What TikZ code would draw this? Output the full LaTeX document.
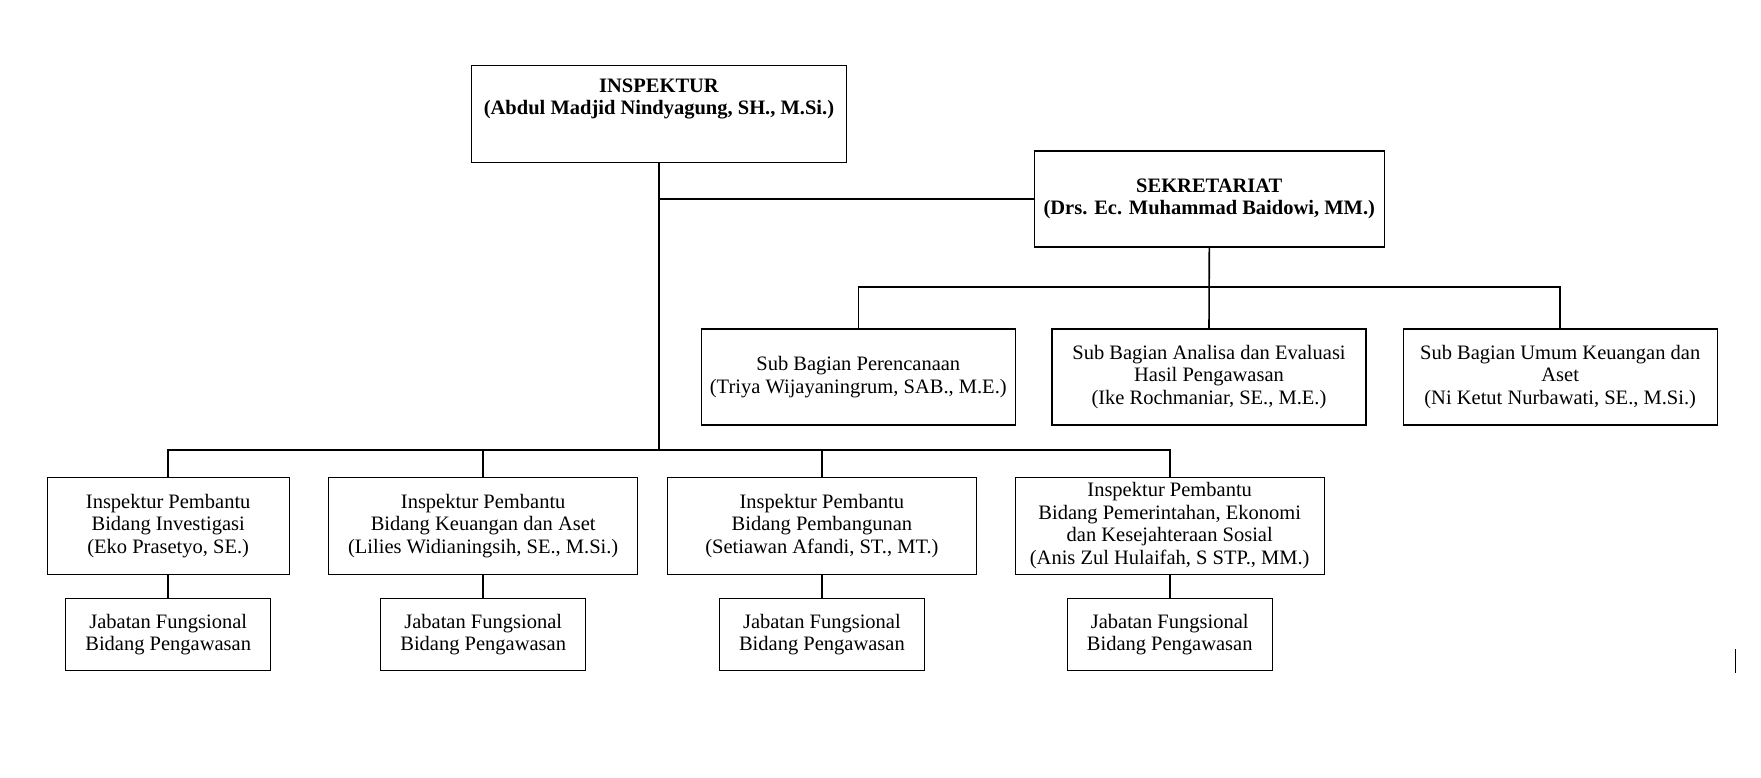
\documentclass[tikz,border=0pt]{standalone}
\usepackage{fontspec}
\setmainfont{Liberation Serif}

\begin{document}
\begin{tikzpicture}[x=1pt,y=-1pt,
	kotak/.style={draw,line width=1.3pt,align=center,inner sep=2pt,font=\fontsize{20.5}{22.6}\selectfont},
	judul/.style={kotak,font=\fontsize{20.5}{22.6}\selectfont\bfseries},
	garis/.style={line width=1.6pt}]
	\useasboundingbox (0,0) rectangle (1761,777);
	\node[judul,minimum width=375,minimum height=97] (insp) at (659,114) {INSPEKTUR\\(Abdul Madjid Nindyagung, SH., M.Si.)\\[12pt]\mbox{}};
	\node[judul,minimum width=350,minimum height=96] (sekr) at (1209.3,199) {SEKRETARIAT\\(Drs. Ec. Muhammad Baidowi, MM.)};
	\node[kotak,minimum width=314,minimum height=96] (sub1) at (858.3,377) {Sub Bagian Perencanaan\\(Triya Wijayaningrum, SAB., M.E.)};
	\node[kotak,minimum width=314,minimum height=96] (sub2) at (1209,377) {Sub Bagian Analisa dan Evaluasi\\Hasil Pengawasan\\(Ike Rochmaniar, SE., M.E.)};
	\node[kotak,minimum width=314,minimum height=96] (sub3) at (1560.2,377) {Sub Bagian Umum Keuangan dan\\Aset\\(Ni Ketut Nurbawati, SE., M.Si.)};
	\node[kotak,minimum width=242,minimum height=97] (ip1) at (168.2,525.7) {Inspektur Pembantu\\Bidang Investigasi\\(Eko Prasetyo, SE.)};
	\node[kotak,minimum width=309,minimum height=97] (ip2) at (483.2,525.7) {Inspektur Pembantu\\Bidang Keuangan dan Aset\\(Lilies Widianingsih, SE., M.Si.)};
	\node[kotak,minimum width=309,minimum height=97] (ip3) at (821.9,525.7) {Inspektur Pembantu\\Bidang Pembangunan\\(Setiawan Afandi, ST., MT.)};
	\node[kotak,minimum width=309,minimum height=97] (ip4) at (1169.7,525.7) {Inspektur Pembantu\\Bidang Pemerintahan, Ekonomi\\dan Kesejahteraan Sosial\\(Anis Zul Hulaifah, S STP., MM.)};
	\node[kotak,minimum width=205,minimum height=72] (jf1) at (168.2,634.5) {Jabatan Fungsional\\Bidang Pengawasan};
	\node[kotak,minimum width=205,minimum height=72] (jf2) at (483.2,634.5) {Jabatan Fungsional\\Bidang Pengawasan};
	\node[kotak,minimum width=205,minimum height=72] (jf3) at (821.9,634.5) {Jabatan Fungsional\\Bidang Pengawasan};
	\node[kotak,minimum width=205,minimum height=72] (jf4) at (1169.7,634.5) {Jabatan Fungsional\\Bidang Pengawasan};
	\coordinate (barbawah) at (659,450);
	\coordinate (bartengah) at (1209,287);
	\draw[garis] (insp.south) -- (barbawah);
	\draw[garis] (insp.south |- sekr.west) -- (sekr.west);
	\draw[garis] (ip1.north) |- (barbawah) -| (ip4.north);
	\draw[garis] (ip2.north) -- (ip2.north |- barbawah);
	\draw[garis] (ip3.north) -- (ip3.north |- barbawah);
	\draw[garis] (sekr.south) -- (sub2.north);
	\draw[garis] (sub1.north) |- (bartengah) -| (sub3.north);
	\foreach \i in {1,...,4}
		\draw[garis] (ip\i.south) -- (jf\i.north);
	\draw[garis] (1735.3,649.3) -- (1735.3,672.7);
\end{tikzpicture}
\end{document}
